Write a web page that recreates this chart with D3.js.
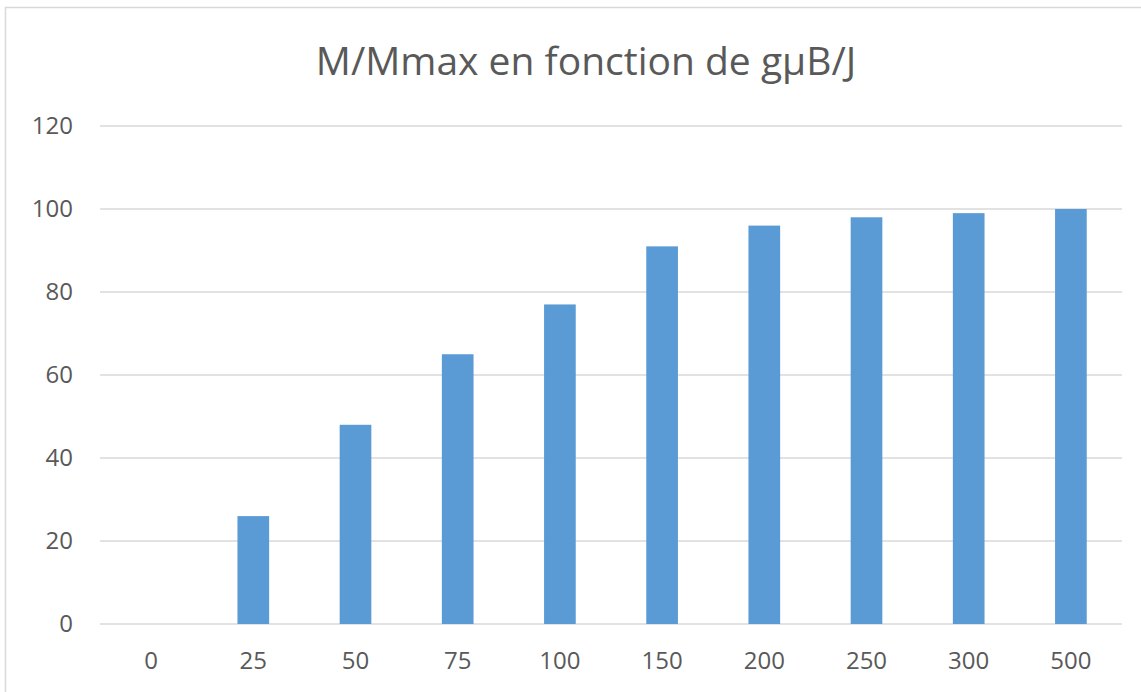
<!DOCTYPE html>
<html>
<head>
<meta charset="utf-8">
<script src="https://cdn.jsdelivr.net/npm/d3@7"></script>
<style>
	body { margin: 0; background: #fff; }
	svg text { font-family: "Open Sans", "Noto Sans", sans-serif; fill: #595959; }
</style>
</head>
<body>
<div id="chart"></div>
<script>
const categories = ["0", "25", "50", "75", "100", "150", "200", "250", "300", "500"];
const values = [0, 26, 48, 65, 77, 91, 96, 98, 99, 100];
const y_ticks = [0, 20, 40, 60, 80, 100, 120];
const title = "M/Mmax en fonction de gµB/J";

const width = 1141, height = 692;
const margin = {top: 126, right: 19, bottom: 68, left: 100};

let svg = d3.select("#chart").append("svg").attr("width", width).attr("height", height);

// chart frame (only top + left visible in the crop)
svg.append("rect").attr("x", 5.5).attr("y", 7.5).attr("width", width + 10).attr("height", height + 10)
	.attr("fill", "none").attr("stroke", "#d9d9d9").attr("stroke-width", 1.5);

let x = d3.scaleBand().domain(categories).range([margin.left, width - margin.right]).paddingInner(0.69).paddingOuter(0.345);
let y = d3.scaleLinear().domain([0, 120]).range([height - margin.bottom, margin.top]);

// gridlines
svg.append("g").selectAll("line").data(y_ticks).join("line")
	.attr("x1", margin.left).attr("x2", width - margin.right)
	.attr("y1", d => y(d)).attr("y2", d => y(d))
	.attr("stroke", "#d9d9d9").attr("stroke-width", 1.5);

// y labels
svg.append("g").selectAll("text").data(y_ticks).join("text")
	.attr("x", 73).attr("y", d => y(d)).attr("dy", "0.34em")
	.attr("text-anchor", "end").attr("font-size", 24)
	.text(d => d);

// bars
svg.append("g").selectAll("rect").data(values).join("rect")
	.attr("x", (d, i) => x(categories[i]))
	.attr("width", x.bandwidth())
	.attr("y", d => y(d))
	.attr("height", d => y(0) - y(d))
	.attr("fill", "#5b9bd5");

// x labels
svg.append("g").selectAll("text").data(categories).join("text")
	.attr("x", d => x(d) + x.bandwidth() / 2).attr("y", 669)
	.attr("text-anchor", "middle").attr("font-size", 24)
	.text(d => d);

svg.append("text").attr("x", 586).attr("y", 75).attr("text-anchor", "middle")
	.attr("font-size", 39).text(title);
</script>
</body>
</html>
